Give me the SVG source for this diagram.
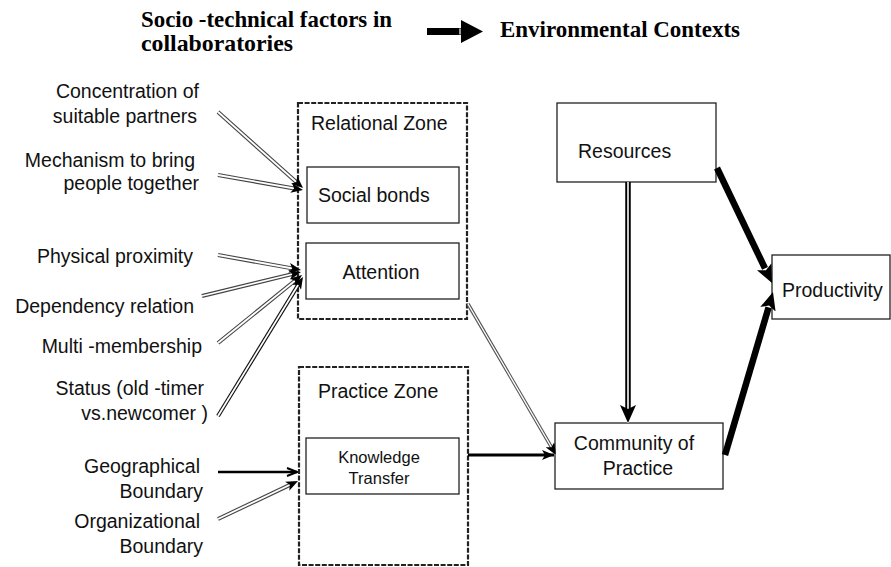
<svg xmlns="http://www.w3.org/2000/svg" width="891" height="567" viewBox="0 0 891 567">
  <style>
    .hdr { font-family: "Liberation Serif", "Times New Roman", serif; font-weight: bold; font-size: 24px; fill: #000; }
    .lbl { font-family: "Liberation Sans", Arial, sans-serif; font-size: 19.5px; fill: #111; }
    .lbl-r { text-anchor: end; }
    .lbl-c { text-anchor: middle; }
    .small { font-size: 16.5px; }
    .box { fill: #fff; stroke: #222; stroke-width: 1.3; }
    .zone { fill: none; stroke: #222; stroke-width: 2.2; stroke-dasharray: 5 1.6; }
    .dbl-out { fill: none; stroke: #444; stroke-width: 4; stroke-linecap: butt; }
    .dbl-in { fill: none; stroke: #fff; stroke-width: 1.8; stroke-linecap: butt; }
    .solid { fill: none; stroke: #000; stroke-width: 3; }
    .heavy { fill: none; stroke: #000; stroke-width: 6.5; stroke-linecap: butt; }
  </style>
  <defs>
    <marker id="tip-sm" markerUnits="userSpaceOnUse" markerWidth="12" markerHeight="10" viewBox="0 0 12 10" refX="12" refY="5" orient="auto">
      <path d="M0,0 L12,5 L0,10 L3,5 Z" fill="#000"/>
    </marker>
    <marker id="tip-open" markerUnits="userSpaceOnUse" markerWidth="12" markerHeight="10" viewBox="0 0 12 10" refX="11" refY="5" orient="auto">
      <path d="M1,1 L11,5 L1,9" fill="none" stroke="#000" stroke-width="2"/>
    </marker>
    <marker id="tip-lg" markerUnits="userSpaceOnUse" markerWidth="18" markerHeight="16" viewBox="0 0 18 16" refX="18" refY="8" orient="auto">
      <path d="M0,0 L18,8 L0,16 L4,8 Z" fill="#000"/>
    </marker>
  </defs>

  <!-- legend heading -->
  <g id="legend">
    <text class="hdr" x="141" y="27" textLength="251" lengthAdjust="spacingAndGlyphs">Socio -technical factors in</text>
    <text class="hdr" x="141" y="51" textLength="152" lengthAdjust="spacingAndGlyphs">collaboratories</text>
    <path d="M427,28 L461,28 L461,20 L483,31.5 L461,43 L461,35 L427,35 Z" fill="#000"/>
    <line x1="460" y1="28.5" x2="460" y2="34.5" stroke="#fff" stroke-width="1.2"/>
    <text class="hdr" x="500" y="37" textLength="240" lengthAdjust="spacingAndGlyphs">Environmental Contexts</text>
  </g>

  <!-- factor labels -->
  <g id="concentration"><text class="lbl lbl-r" x="199" y="98">Concentration of</text><text class="lbl lbl-r" x="197" y="123">suitable partners</text></g>
  <g id="mechanism"><text class="lbl lbl-r" x="195" y="167">Mechanism to bring</text><text class="lbl lbl-r" x="199" y="190">people together</text></g>
  <g id="physical"><text class="lbl lbl-r" x="193" y="263">Physical proximity</text></g>
  <g id="dependency"><text class="lbl lbl-r" x="194" y="313">Dependency relation</text></g>
  <g id="multi"><text class="lbl lbl-r" x="202" y="353">Multi -membership</text></g>
  <g id="status"><text class="lbl lbl-r" x="204" y="395">Status (old -timer</text><text class="lbl lbl-r" x="208" y="420">vs.newcomer )</text></g>
  <g id="geographical"><text class="lbl lbl-r" x="200" y="473">Geographical</text><text class="lbl lbl-r" x="203" y="498">Boundary</text></g>
  <g id="organizational"><text class="lbl lbl-r" x="200" y="528">Organizational</text><text class="lbl lbl-r" x="203" y="553">Boundary</text></g>

  <!-- zones -->
  <g id="relational-zone">
    <rect class="zone" x="298" y="103" width="169" height="216"/>
    <text class="lbl" x="311" y="130">Relational Zone</text>
  </g>
  <g id="social-bonds">
    <rect class="box" x="307" y="167" width="152" height="56"/>
    <text class="lbl" x="318" y="202">Social bonds</text>
  </g>
  <g id="attention">
    <rect class="box" x="306" y="243" width="153" height="56"/>
    <text class="lbl lbl-c" x="381" y="279">Attention</text>
  </g>
  <g id="practice-zone">
    <rect class="zone" x="299" y="367" width="169" height="198"/>
    <text class="lbl" x="318" y="398">Practice Zone</text>
  </g>
  <g id="knowledge-transfer">
    <rect class="box" x="306" y="438" width="153" height="56"/>
    <text class="lbl lbl-c small" x="379" y="463">Knowledge</text>
    <text class="lbl lbl-c small" x="379" y="484">Transfer</text>
  </g>

  <!-- environmental context nodes -->
  <g id="resources">
    <rect class="box" x="557" y="103" width="159" height="79"/>
    <text class="lbl" x="578" y="158">Resources</text>
  </g>
  <g id="community">
    <rect class="box" x="555" y="423" width="168" height="66"/>
    <text class="lbl lbl-c" x="634" y="450">Community of</text>
    <text class="lbl lbl-c" x="638" y="475">Practice</text>
  </g>
  <g id="productivity">
    <rect class="box" x="772" y="255" width="118" height="64"/>
    <text class="lbl" x="782" y="297">Productivity</text>
  </g>

  <!-- connectors -->
  <g id="connectors">
    <!-- double-line arrows: dark outer line, white core carrying the head -->
    <path class="dbl-out" d="M218,112 L298.5,184"/>
    <path class="dbl-in" d="M218,112 L303,188" marker-end="url(#tip-sm)"/>
    <path class="dbl-out" d="M218,175 L297.1,189"/>
    <path class="dbl-in" d="M218,175 L303,190" marker-end="url(#tip-sm)"/>
    <path class="dbl-out" d="M218,255 L295.1,268.9"/>
    <path class="dbl-in" d="M218,255 L301,270" marker-end="url(#tip-sm)"/>
    <path class="dbl-out" d="M202,296 L295.2,273.4"/>
    <path class="dbl-in" d="M202,296 L301,272" marker-end="url(#tip-sm)"/>
    <path class="dbl-out" d="M218,343 L297.3,278.8"/>
    <path class="dbl-in" d="M218,343 L302,275" marker-end="url(#tip-sm)"/>
    <path class="dbl-out" d="M218,416 L299.9,282.1" style="stroke:#111"/>
    <path class="dbl-in" d="M218,416 L303,277" marker-end="url(#tip-sm)"/>
    <path class="dbl-out" d="M218,519 L292.6,483.6"/>
    <path class="dbl-in" d="M218,519 L298,481" marker-end="url(#tip-sm)"/>
    <path class="dbl-out" d="M468,304 L553,449.8" style="stroke:#555;stroke-width:3.5"/>
    <path class="dbl-in" d="M468,304 L556,455" style="stroke-width:1.3" marker-end="url(#tip-sm)"/>

    <!-- solid arrows -->
    <path class="solid" d="M218,472 L297,472" style="stroke-width:2.6" marker-end="url(#tip-open)"/>
    <path class="solid" d="M468,455 L554,455" marker-end="url(#tip-sm)"/>

    <!-- resources to community -->
    <path d="M628,182 L628,412" fill="none" stroke="#000" stroke-width="5.5"/>
    <path d="M628,182 L628,423" fill="none" stroke="#fff" stroke-width="1.6" marker-end="url(#tip-lg)"/>

    <!-- heavy arrows into productivity -->
    <path class="heavy" d="M717,168 L765,268.4"/>
    <path d="M717,168 L772,283" fill="none" stroke="none" marker-end="url(#tip-lg)"/>
    <path class="heavy" d="M725,455 L768.6,307.4"/>
    <path d="M725,455 L773,292" fill="none" stroke="none" marker-end="url(#tip-lg)"/>
  </g>
</svg>
